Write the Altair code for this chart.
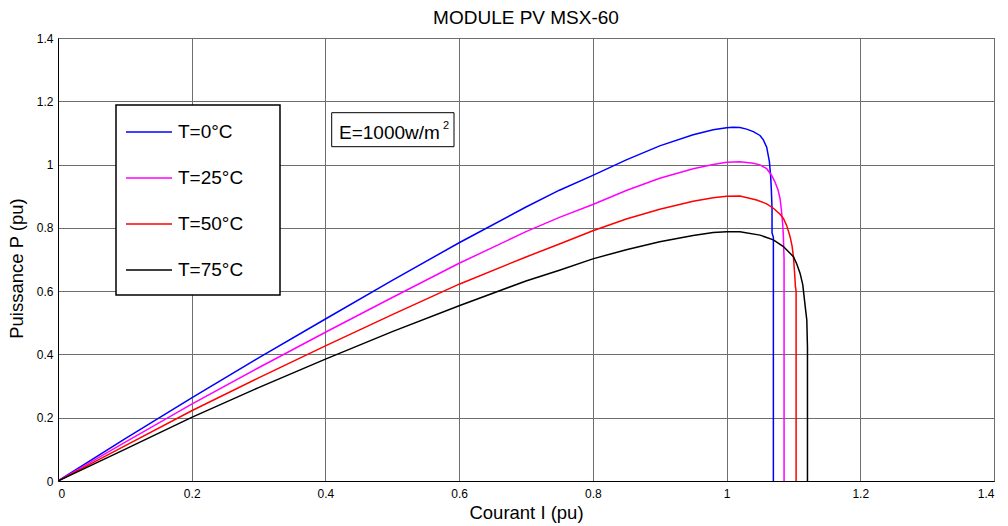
import altair as alt
import pandas as pd

# ---- data ----
SERIES = ["T=0°C", "T=25°C", "T=50°C", "T=75°C"]
COLORS = ["#0000ff", "#ff00ff", "#ff0000", "#000000"]

I_T0 = [0, 0.1, 0.2, 0.3, 0.4, 0.5, 0.6, 0.7, 0.75, 0.8, 0.85, 0.9, 0.95, 0.98, 1.0, 1.01, 1.02, 1.03,
        1.04, 1.05, 1.055, 1.06, 1.064, 1.066, 1.067, 1.068, 1.068, 1.070, 1.070]
P_T0 = [0, 0.133, 0.263, 0.389, 0.512, 0.634, 0.753, 0.866, 0.919, 0.966, 1.015, 1.059, 1.094, 1.110,
        1.116, 1.118, 1.117, 1.112, 1.104, 1.092, 1.078, 1.055, 1.010, 0.962, 0.92, 0.86, 0.784, 0.77, 0]

I_T25 = [0, 0.1, 0.2, 0.3, 0.4, 0.5, 0.6, 0.7, 0.75, 0.8, 0.85, 0.9, 0.95, 0.98, 1.0, 1.02, 1.04, 1.05,
         1.06, 1.067, 1.072, 1.077, 1.08, 1.082, 1.084, 1.085, 1.086, 1.086]
P_T25 = [0, 0.122, 0.243, 0.358, 0.470, 0.580, 0.688, 0.788, 0.833, 0.874, 0.918, 0.957, 0.987, 1.000,
         1.007, 1.009, 1.004, 0.999, 0.987, 0.967, 0.947, 0.920, 0.892, 0.857, 0.810, 0.772, 0.70, 0]

I_T50 = [0, 0.1, 0.2, 0.3, 0.4, 0.5, 0.6, 0.7, 0.75, 0.8, 0.85, 0.9, 0.95, 0.98, 1.0, 1.02, 1.045, 1.06,
         1.07, 1.08, 1.085, 1.09, 1.095, 1.098, 1.1, 1.102, 1.103, 1.104, 1.104]
P_T50 = [0, 0.111, 0.222, 0.326, 0.427, 0.526, 0.622, 0.708, 0.749, 0.791, 0.828, 0.859, 0.884, 0.895,
         0.900, 0.901, 0.888, 0.876, 0.862, 0.843, 0.830, 0.807, 0.772, 0.742, 0.709, 0.650, 0.614, 0.60, 0]

I_T75 = [0, 0.1, 0.2, 0.3, 0.4, 0.5, 0.6, 0.7, 0.75, 0.8, 0.85, 0.9, 0.95, 0.98, 1.0, 1.02, 1.05, 1.07,
         1.085, 1.1, 1.105, 1.11, 1.114, 1.116, 1.118, 1.12, 1.121, 1.121]
P_T75 = [0, 0.100, 0.201, 0.295, 0.385, 0.472, 0.554, 0.632, 0.666, 0.702, 0.731, 0.756, 0.776, 0.785,
         0.788, 0.788, 0.777, 0.762, 0.741, 0.709, 0.686, 0.656, 0.620, 0.582, 0.545, 0.509, 0.42, 0]

X_TICKS = [0, 0.2, 0.4, 0.6, 0.8, 1.0, 1.2, 1.4]
Y_TICKS = [0, 0.2, 0.4, 0.6, 0.8, 1.0, 1.2, 1.4]

TITLE = "MODULE PV MSX-60"
X_TITLE = "Courant I (pu)"
Y_TITLE = "Puissance P (pu)"
ANNOT_TEXT = ["E=1000w/m"]
ANNOT_SUP = ["2"]

FONT = "Liberation Sans"

rows = []
for name, Is, Ps in zip(SERIES, [I_T0, I_T25, I_T50, I_T75], [P_T0, P_T25, P_T50, P_T75]):
    for k, (i, p) in enumerate(zip(Is, Ps)):
        rows.append({"I": i, "P": p, "T": name, "k": k})
df = pd.DataFrame(rows)

lines = alt.Chart(df).mark_line(strokeWidth=1.5, clip=True).encode(
    x=alt.X("I:Q", scale=alt.Scale(domain=[0, 1.4], nice=False),
            axis=alt.Axis(values=X_TICKS, format="~g", title=X_TITLE, ticks=False, tickSize=0,
                          labelPadding=7, titleY=37, titleBaseline="alphabetic", titleAlign="center")),
    y=alt.Y("P:Q", scale=alt.Scale(domain=[0, 1.4], nice=False),
            axis=alt.Axis(values=Y_TICKS, format="~g", title=Y_TITLE, ticks=False, tickSize=0,
                          labelPadding=5, titleX=-35.5, titleY=230, titleAngle=270,
                          titleBaseline="alphabetic", titleAlign="center")),
    color=alt.Color("T:N", scale=alt.Scale(domain=SERIES, range=COLORS),
                    legend=alt.Legend(title=None, orient="none", legendX=58, legendY=67,
                                      symbolType="stroke", symbolSize=2116, symbolStrokeWidth=1.5,
                                      labelFontSize=19, labelFont=FONT, labelColor="black",
                                      padding=3, rowPadding=12, strokeColor="transparent",
                                      fillColor="transparent", symbolOffset=6, labelOffset=5)),
    order="k:Q",
)

one = pd.DataFrame({"t": ANNOT_TEXT})
sup = pd.DataFrame({"t": ANNOT_SUP})

legend_box = alt.Chart(one).mark_rect(fill="white", stroke="black", strokeWidth=1.5).encode(
    x=alt.value(58), x2=alt.value(222), y=alt.value(67), y2=alt.value(257))
box = alt.Chart(one).mark_rect(fill="white", stroke="black", strokeWidth=1).encode(
    x=alt.value(273.7), x2=alt.value(396), y=alt.value(74.7), y2=alt.value(108.7))
txt = alt.Chart(one).mark_text(align="left", baseline="alphabetic", fontSize=19, font=FONT,
                               color="black").encode(x=alt.value(281), y=alt.value(101), text="t:N")
txt2 = alt.Chart(sup).mark_text(align="left", baseline="alphabetic", fontSize=11, font=FONT,
                                color="black").encode(x=alt.value(385), y=alt.value(90.5), text="t:N")

chart = alt.layer(lines, legend_box, box, txt, txt2).properties(
    width=936, height=443,
    autosize=alt.AutoSizeParams(type="none"),
    padding={"left": 58, "top": 38, "right": 14, "bottom": 45},
    title=alt.TitleParams(TITLE, fontSize=19, fontWeight="normal", font=FONT, offset=4,
                          anchor="middle", color="black", frame="group"),
    background="white",
).configure_view(stroke="black", strokeWidth=1).configure_axis(
    domainColor="black", domainWidth=1, gridColor="#6e6e6e", gridWidth=1, gridOpacity=1,
    labelFont=FONT, labelFontSize=12, labelColor="black",
    titleFont=FONT, titleFontSize=18.5, titleFontWeight="normal", titleColor="black",
)

chart.save("out.html", embed_options={"renderer": "svg", "actions": False})
